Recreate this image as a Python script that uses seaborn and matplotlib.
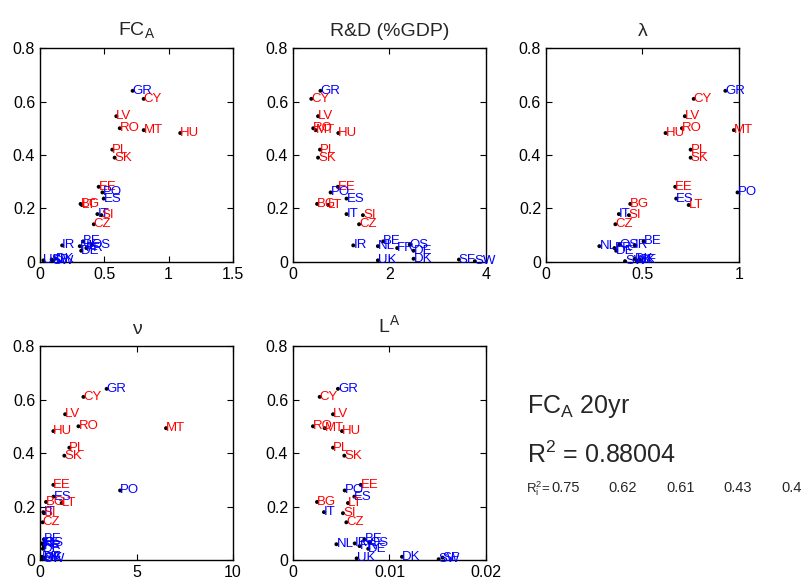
import seaborn as sns
import matplotlib.pyplot as plt
import numpy as np
import pandas as pd

# Country codes, y value shared by every panel (FC_A) and the five regressors
countries = ['GR', 'CY', 'LV', 'RO', 'MT', 'HU', 'PL', 'SK', 'EE', 'PO', 'ES', 'BG', 'LT',
             'IT', 'SI', 'CZ', 'BE', 'IR', 'NL', 'OS', 'FR', 'DE', 'DK', 'SF', 'UK', 'SW']
new_members = ['CY', 'LV', 'RO', 'MT', 'HU', 'PL', 'SK', 'EE', 'BG', 'LT', 'SI', 'CZ']

fc_a_20 = [0.64, 0.61, 0.545, 0.50, 0.493, 0.482, 0.42, 0.39, 0.281, 0.26, 0.237, 0.217, 0.213,
           0.179, 0.175, 0.141, 0.077, 0.062, 0.059, 0.065, 0.052, 0.042, 0.012, 0.009, 0.006, 0.003]

fc_a = [0.72, 0.806, 0.593, 0.62, 0.806, 1.09, 0.562, 0.58, 0.456, 0.485, 0.495, 0.315, 0.325,
        0.446, 0.477, 0.418, 0.335, 0.172, 0.309, 0.40, 0.36, 0.32, 0.12, 0.09, 0.026, 0.10]
rnd = [0.57, 0.38, 0.52, 0.42, 0.47, 0.94, 0.56, 0.52, 0.93, 0.78, 1.11, 0.50, 0.73,
       1.11, 1.45, 1.37, 1.87, 1.25, 1.76, 2.42, 2.16, 2.5, 2.5, 3.44, 1.76, 3.77]
lam = [0.93, 0.766, 0.72, 0.705, 0.974, 0.62, 0.75, 0.75, 0.67, 0.993, 0.675, 0.437, 0.74,
       0.378, 0.43, 0.36, 0.506, 0.46, 0.277, 0.38, 0.355, 0.364, 0.46, 0.485, 0.47, 0.41]
nu = [3.45, 2.25, 1.3, 1.99, 6.53, 0.69, 1.52, 1.26, 0.69, 4.15, 0.70, 0.31, 1.12,
      0.17, 0.2, 0.14, 0.2, 0.1, 0.15, 0.25, 0.2, 0.15, 0.1, 0.25, 0.2, 0.15]
l_a = [0.00466, 0.00277, 0.00415, 0.00207, 0.00328, 0.00508, 0.00415, 0.00532, 0.00702, 0.00536,
       0.00636, 0.00249, 0.0057, 0.00321, 0.00518, 0.00553, 0.0074, 0.0064, 0.0045, 0.0079,
       0.0069, 0.0078, 0.0113, 0.0155, 0.0066, 0.0151]

titles = [r'FC$_\mathregular{A}$', 'R&D (%GDP)', 'λ', 'ν', r'L$^\mathregular{A}$']
xlims = [(0, 1.5), (0, 4), (0, 1), (0, 10), (0, 0.02)]
xticks = [[0, 0.5, 1, 1.5], [0, 2, 4], [0, 0.5, 1], [0, 5, 10], [0, 0.01, 0.02]]
yticks = [0, 0.2, 0.4, 0.6, 0.8]

r2_total = 0.88004
r2_each = ['0.75', '0.62', '0.61', '0.43', '0.4']

df = pd.DataFrame({'country': countries, 'fc_a_20': fc_a_20, 'fc_a': fc_a, 'rnd': rnd,
                   'lam': lam, 'nu': nu, 'l_a': l_a})
df['color'] = np.where(df['country'].isin(new_members), 'red', 'blue')
xcols = ['fc_a', 'rnd', 'lam', 'nu', 'l_a']

sns.set_style("ticks")
plt.rcParams['font.family'] = ['Liberation Sans', 'DejaVu Sans']

fig, axes = plt.subplots(2, 3, figsize=(8.04, 5.82), dpi=100)
fig.subplots_adjust(left=0.0498, right=0.919, bottom=0.0378, top=0.9175,
                    wspace=0.311, hspace=0.393)
axes = axes.ravel()

for i, col in enumerate(xcols):
    ax = axes[i]
    sns.scatterplot(data=df, x=col, y='fc_a_20', ax=ax, color='black', s=8,
                    edgecolor='none', zorder=3)
    for _, row in df.iterrows():
        ax.text(row[col], row['fc_a_20'], row['country'], color=row['color'],
                fontsize=9.5, ha='left', va='center', zorder=4)
    ax.set_xlim(xlims[i])
    ax.set_ylim(0, 0.8)
    ax.set_xticks(xticks[i])
    ax.set_xticklabels([f'{t:g}' for t in xticks[i]])
    ax.set_yticks(yticks)
    ax.set_yticklabels([f'{t:g}' for t in yticks])
    ax.set_xlabel('')
    ax.set_ylabel('')
    ax.set_title(titles[i], fontsize=14, pad=9)
    ax.tick_params(direction='in', top=True, right=True, length=4, width=0.8,
                   labelsize=11.5, colors='black')
    for s in ax.spines.values():
        s.set_visible(True)
        s.set_color('black')
        s.set_linewidth(1)

axes[5].axis('off')

fig.text(0.6555, 0.2904, r'FC$_\mathregular{A}$ 20yr', fontsize=18, va='baseline')
fig.text(0.6555, 0.2045, r'R$^\mathregular{2}$ = ' + f'{r2_total:.5f}', fontsize=18, va='baseline')
fig.text(0.6540, 0.1546, r'R$^\mathregular{2}_\mathregular{i}$=', fontsize=9.5, va='baseline')
for k, val in enumerate(r2_each):
    fig.text((551 + 57.5 * k) / 804, 0.1546, val, fontsize=10.5, va='baseline')

plt.savefig('out.png', dpi=100)
plt.close()
